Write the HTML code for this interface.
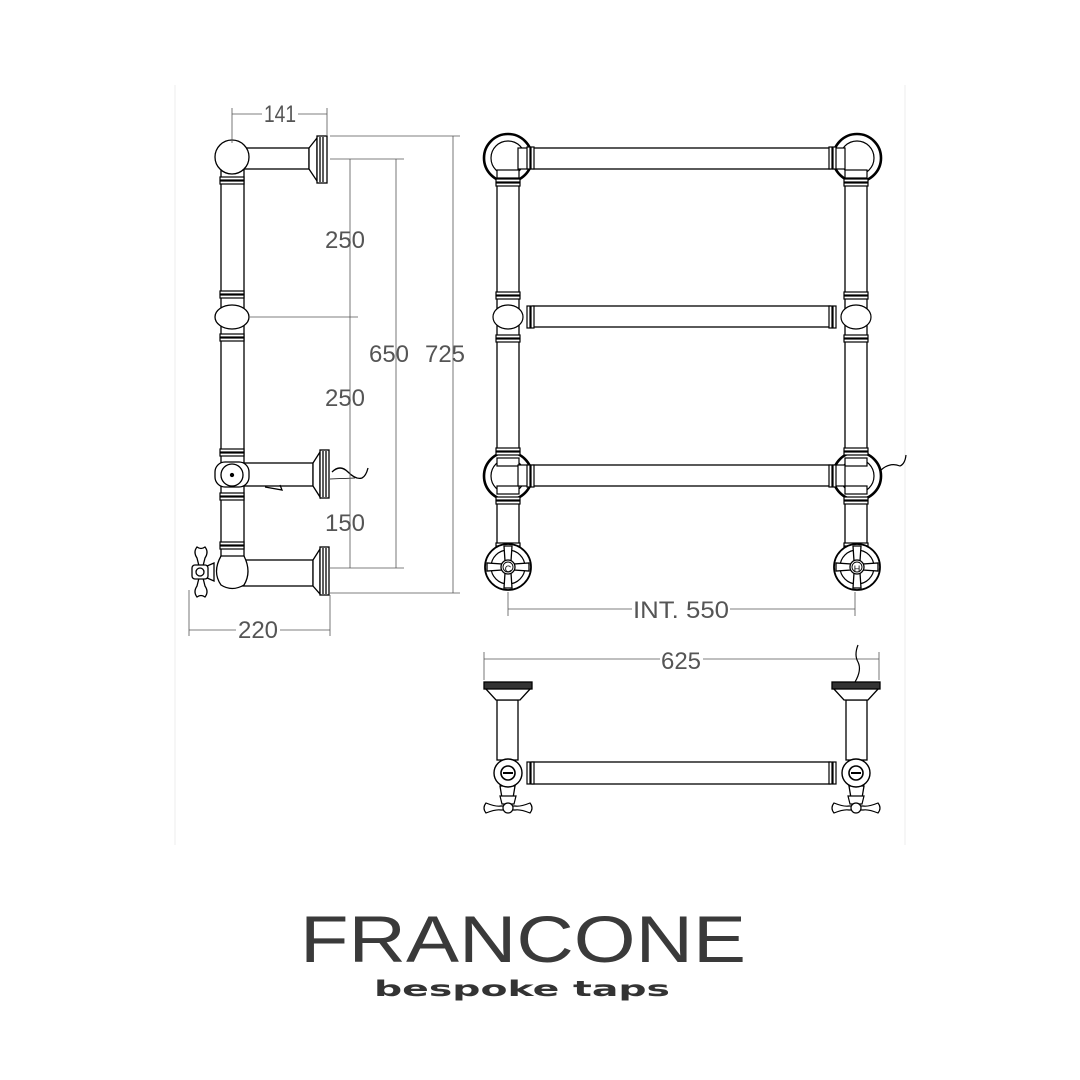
<!DOCTYPE html>
<html><head><meta charset="utf-8"><style>
html,body{margin:0;padding:0;background:#fff;}
svg{display:block}
</style></head><body>
<svg width="1080" height="1080" viewBox="0 0 1080 1080" xmlns="http://www.w3.org/2000/svg">
<defs>
<g id="rings"><rect x="-12" y="-3" width="24" height="3" fill="#fff" stroke="#000" stroke-width="1.2"/><rect x="-12" y="1" width="24" height="3" fill="#fff" stroke="#000" stroke-width="1.2"/></g>
<g id="ringsV"><rect x="-3" y="-11" width="3" height="22" fill="#fff" stroke="#000" stroke-width="1.2"/><rect x="1" y="-11" width="3" height="22" fill="#fff" stroke="#000" stroke-width="1.2"/></g>
<g id="cornerBig">
<circle r="24" fill="#fff" stroke="#000" stroke-width="2.6"/>
<circle r="17" fill="#fff" stroke="#000" stroke-width="1.2"/>
</g>
<g id="valve">
<circle r="23" fill="#fff" stroke="#000" stroke-width="1.8"/>
<circle r="17" fill="none" stroke="#000" stroke-width="1.2"/>
<path d="M-4,-21 L4,-21 L3,-6 L-3,-6Z M-4,21 L4,21 L3,6 L-3,6Z M-21,-4 L-21,4 L-6,3 L-6,-3Z M21,-4 L21,4 L6,3 L6,-3Z" fill="#fff" stroke="#000" stroke-width="1.3"/>
<circle r="7" fill="#fff" stroke="#000" stroke-width="1.3"/>
<circle r="5" fill="none" stroke="#000" stroke-width="0.9"/>
</g>
<g id="planTee">
<circle r="14" fill="#fff" stroke="#000" stroke-width="1.4"/>
<circle r="7" fill="#fff" stroke="#000" stroke-width="1.6"/>
<line x1="-5" y1="0" x2="5" y2="0" stroke="#000" stroke-width="2"/>
</g>
<g id="planHandle">
<path d="M-8,-12 L8,-12 L6,-4 L-6,-4Z" fill="#fff" stroke="#000" stroke-width="1.2"/>
<path d="M-22,-5 Q-12,-1 -7,-2 L7,-2 Q12,-1 22,-5 Q26,0 22,5 Q12,1 7,2 L-7,2 Q-12,1 -22,5 Q-26,0 -22,-5Z" fill="#fff" stroke="#000" stroke-width="1.2"/>
<circle r="5" fill="#fff" stroke="#000" stroke-width="1.2"/>
</g>
</defs>

<line x1="175" y1="85" x2="175" y2="845" stroke="#eee" stroke-width="1"/>
<line x1="905" y1="85" x2="905" y2="845" stroke="#eee" stroke-width="1"/>

<g fill="none" stroke="#000" stroke-width="1.3">
<rect x="221" y="170" width="23" height="400" fill="#fff"/>
<rect x="240" y="148" width="69" height="21" fill="#fff"/>
<path d="M309,148 L317,138 L317,181 L309,169Z" fill="#fff"/>
<rect x="317" y="136" width="10" height="47" fill="#fff"/>
<line x1="320" y1="137" x2="320" y2="182"/><line x1="323" y1="137" x2="323" y2="182"/>
<circle cx="232" cy="157" r="17" fill="#fff"/>
<use href="#rings" x="232" y="180"/>
<use href="#rings" x="232" y="294"/>
<ellipse cx="232" cy="317" rx="17" ry="12" fill="#fff"/>
<use href="#rings" x="232" y="337"/>
<use href="#rings" x="232" y="452"/>
<rect x="240" y="463" width="73" height="23" fill="#fff"/>
<path d="M313,463 L320,452 L320,497 L313,486Z" fill="#fff"/>
<rect x="320" y="450" width="9" height="48" fill="#fff"/>
<line x1="323" y1="451" x2="323" y2="497"/><line x1="326" y1="451" x2="326" y2="497"/>
<rect x="215" y="462" width="34" height="25" rx="10" fill="#fff"/>
<circle cx="232" cy="475" r="11" fill="#fff"/>
<circle cx="232" cy="475" r="1.5" fill="#000"/>
<path d="M265,487 L282,490 L280,485"/>
<path d="M332,472 Q340,464 348,472 T362,478 Q366,476 368,468" />
<line x1="330" y1="479" x2="355" y2="478" stroke-width="0.8"/>
<use href="#rings" x="232" y="496"/>
<use href="#rings" x="232" y="545"/>
<rect x="240" y="560" width="73" height="26" fill="#fff"/>
<path d="M313,560 L320,549 L320,594 L313,586Z" fill="#fff"/>
<rect x="320" y="547" width="9" height="48" fill="#fff"/>
<line x1="323" y1="548" x2="323" y2="594"/><line x1="326" y1="548" x2="326" y2="594"/>
<path d="M221,556 L244,556 Q252,572 244,585 Q232,592 221,585 Q212,572 221,556Z" fill="#fff"/>
<path d="M214,563 L207,566 L207,578 L214,581Z" fill="#fff"/>
<path d="M197,547 Q193,552 197,558 L199,566 L203,566 L205,558 Q209,552 205,547 Q201,550 197,547Z" fill="#fff"/>
<path d="M197,597 Q193,592 197,586 L199,578 L203,578 L205,586 Q209,592 205,597 Q201,594 197,597Z" fill="#fff"/>
<rect x="192" y="565" width="16" height="14" rx="3" fill="#fff"/>
<circle cx="200" cy="572" r="4"/>
</g>

<g stroke="#555" stroke-width="0.8" fill="none">
<line x1="232" y1="108" x2="232" y2="143"/><line x1="327" y1="108" x2="327" y2="136"/>
<line x1="232" y1="114" x2="264" y2="114"/><line x1="296" y1="114" x2="327" y2="114"/>
<line x1="330" y1="136" x2="460" y2="136"/><line x1="330" y1="593" x2="460" y2="593"/>
<line x1="453" y1="136" x2="453" y2="593"/>
<line x1="330" y1="159" x2="404" y2="159"/><line x1="330" y1="568" x2="404" y2="568"/>
<line x1="396" y1="159" x2="396" y2="568"/>
<line x1="350" y1="159" x2="350" y2="568"/>
<line x1="250" y1="317" x2="358" y2="317"/>
<line x1="189" y1="590" x2="189" y2="636"/><line x1="330" y1="595" x2="330" y2="636"/>
<line x1="189" y1="630" x2="236" y2="630"/><line x1="280" y1="630" x2="330" y2="630"/>
</g>
<g font-family="Liberation Sans, sans-serif" font-size="24" fill="#555" text-anchor="middle">
<rect x="262" y="102" width="36" height="24" fill="#fff"/>
<text x="280" y="122" textLength="32" lengthAdjust="spacingAndGlyphs">141</text>
<text x="345" y="248" textLength="40" lengthAdjust="spacingAndGlyphs">250</text>
<text x="345" y="406" textLength="40" lengthAdjust="spacingAndGlyphs">250</text>
<text x="345" y="531" textLength="40" lengthAdjust="spacingAndGlyphs">150</text>
<text x="389" y="362" textLength="40" lengthAdjust="spacingAndGlyphs">650</text>
<text x="445" y="362" textLength="40" lengthAdjust="spacingAndGlyphs">725</text>
<text x="258" y="638" textLength="40" lengthAdjust="spacingAndGlyphs">220</text>
</g>

<g fill="none" stroke="#000" stroke-width="1.3">
<rect x="497" y="170" width="22" height="385" fill="#fff"/>
<rect x="845" y="170" width="22" height="385" fill="#fff"/>
<rect x="533" y="148" width="297" height="21" fill="#fff"/>
<rect x="533" y="306" width="297" height="21" fill="#fff"/>
<rect x="533" y="465" width="297" height="21" fill="#fff"/>
</g>
<use href="#cornerBig" x="508" y="158"/><use href="#cornerBig" x="857" y="158"/>
<use href="#cornerBig" x="508" y="476"/><use href="#cornerBig" x="857" y="476"/>
<g fill="#fff" stroke="#000" stroke-width="1.2">
<rect x="497" y="170" width="22" height="8"/><rect x="845" y="170" width="22" height="8"/>
<rect x="497" y="486" width="22" height="8"/><rect x="845" y="486" width="22" height="8"/>
<rect x="497" y="458" width="22" height="8"/><rect x="845" y="458" width="22" height="8"/>
<rect x="518" y="148" width="13" height="21"/><rect x="832" y="148" width="13" height="21"/>
<rect x="518" y="465" width="13" height="21"/><rect x="832" y="465" width="13" height="21"/>
<ellipse cx="508" cy="317" rx="15" ry="12"/><ellipse cx="856" cy="317" rx="15" ry="12"/>
</g>
<use href="#rings" x="508" y="182"/><use href="#rings" x="856" y="182"/>
<use href="#rings" x="508" y="295"/><use href="#rings" x="856" y="295"/>
<use href="#rings" x="508" y="338"/><use href="#rings" x="856" y="338"/>
<use href="#rings" x="508" y="451"/><use href="#rings" x="856" y="451"/>
<use href="#rings" x="508" y="500"/><use href="#rings" x="856" y="500"/>
<use href="#rings" x="508" y="546"/><use href="#rings" x="856" y="546"/>
<use href="#ringsV" x="530" y="158"/><use href="#ringsV" x="832" y="158"/>
<use href="#ringsV" x="530" y="317"/><use href="#ringsV" x="832" y="317"/>
<use href="#ringsV" x="530" y="476"/><use href="#ringsV" x="832" y="476"/>
<use href="#valve" x="508" y="567"/><use href="#valve" x="857" y="567"/>
<text x="508" y="572" font-family="Liberation Sans, sans-serif" font-size="9" text-anchor="middle">C</text>
<text x="857" y="572" font-family="Liberation Sans, sans-serif" font-size="9" text-anchor="middle">H</text>
<path d="M881,470 Q890,462 900,466 Q905,464 906,455" fill="none" stroke="#000" stroke-width="1.2"/>
<g stroke="#555" stroke-width="0.8" fill="none">
<line x1="508" y1="592" x2="508" y2="616"/><line x1="855" y1="592" x2="855" y2="616"/>
<line x1="508" y1="609" x2="632" y2="609"/><line x1="730" y1="609" x2="855" y2="609"/>
</g>
<text x="681" y="618" font-family="Liberation Sans, sans-serif" font-size="24" fill="#555" text-anchor="middle" textLength="96" lengthAdjust="spacingAndGlyphs">INT. 550</text>

<g stroke="#555" stroke-width="0.8" fill="none">
<line x1="484" y1="652" x2="484" y2="680"/><line x1="879" y1="652" x2="879" y2="680"/>
<line x1="484" y1="659" x2="660" y2="659"/><line x1="703" y1="659" x2="879" y2="659"/>
</g>
<text x="681" y="669" font-family="Liberation Sans, sans-serif" font-size="24" fill="#555" text-anchor="middle" textLength="40" lengthAdjust="spacingAndGlyphs">625</text>
<g fill="#fff" stroke="#000" stroke-width="1.3">
<rect x="497" y="700" width="21" height="60"/><rect x="846" y="700" width="21" height="60"/>
<path d="M485,688 L531,688 L520,700 L496,700Z"/><path d="M833,688 L879,688 L868,700 L844,700Z"/>
<rect x="484" y="682" width="48" height="7" fill="#333"/><rect x="832" y="682" width="48" height="7" fill="#333"/>
<rect x="532" y="762" width="298" height="22"/>
<path d="M500,786 L515,786 L513,798 L502,798Z"/><path d="M849,786 L864,786 L862,798 L851,798Z"/>
</g>
<use href="#ringsV" x="530" y="773"/><use href="#ringsV" x="832" y="773"/>
<use href="#planTee" x="508" y="773"/><use href="#planTee" x="856" y="773"/>
<use href="#planHandle" x="508" y="808"/><use href="#planHandle" x="856" y="808"/>
<path d="M858,645 Q854,655 858,662 Q862,670 855,682" fill="none" stroke="#000" stroke-width="1.2"/>

<text x="300" y="962" font-family="Liberation Sans, sans-serif" font-size="66" fill="#3a3a3a" textLength="446" lengthAdjust="spacingAndGlyphs">FRANCONE</text>
<text x="374" y="996" font-family="DejaVu Sans, Liberation Sans, sans-serif" font-size="21" font-weight="bold" fill="#333" textLength="296" lengthAdjust="spacingAndGlyphs">bespoke taps</text>
</svg>
</body></html>
